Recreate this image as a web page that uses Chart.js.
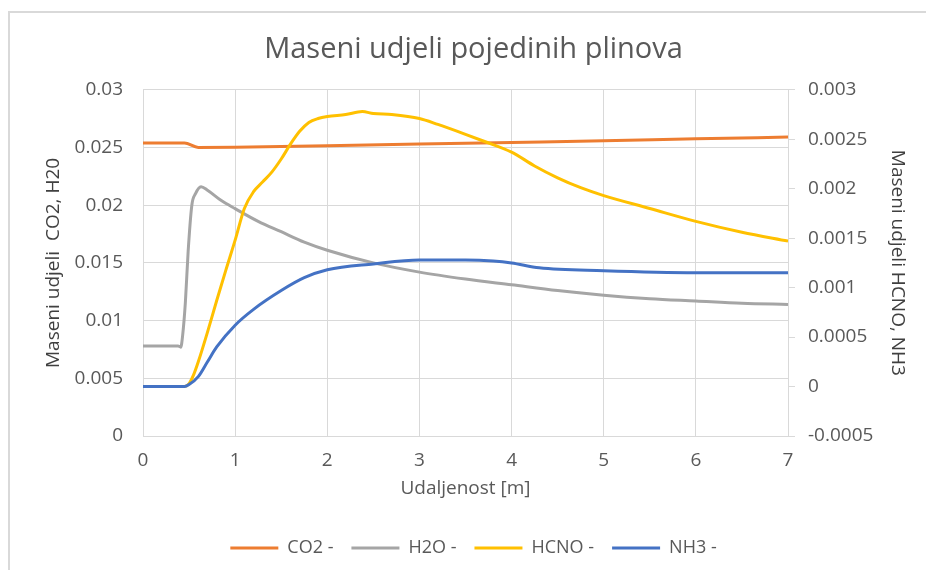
<!DOCTYPE html>
<html>
<head>
<meta charset="utf-8">
<title>Maseni udjeli pojedinih plinova</title>
<script src="https://cdn.jsdelivr.net/npm/chart.js@4.4.1/dist/chart.umd.min.js"></script>
<style>
  html, body { margin: 0; padding: 0; background: #fff; }
  #wrap { position: relative; width: 926px; height: 570px; overflow: hidden; }
  /* outer chart frame, only left and top edges are visible */
  #wrap::before {
    content: '';
    position: absolute;
    left: 8px; top: 11px; right: -10px; bottom: -10px;
    border-left: 2px solid #d9d9d9;
    border-top: 2px solid #d9d9d9;
    pointer-events: none;
  }
  canvas { display: block; }
</style>
</head>
<body>
<div id="wrap"><canvas id="chart" width="926" height="570"></canvas></div>
<script>
// Data (x = distance in m)
const co2X = [0, 0.45, 0.6, 1, 2, 3, 4, 5, 6, 7];
const co2Y = [0.0254, 0.0254, 0.0250, 0.02502, 0.02516, 0.0253, 0.02544, 0.02558, 0.02575, 0.0259];

const h2oX = [0, 0.38, 0.41, 0.43, 0.46, 0.49, 0.53, 0.57, 0.63, 0.7, 0.85, 1, 1.25, 1.5, 1.75, 2, 2.5, 3, 3.5, 4, 4.5, 5, 5.5, 6, 6.5, 7];
const h2oY = [0.0078, 0.0078, 0.0077, 0.0087, 0.0116, 0.016, 0.020, 0.021, 0.0216, 0.0213, 0.0204, 0.0197, 0.0186, 0.0177, 0.0168, 0.0161, 0.0150, 0.0142, 0.0136, 0.0131, 0.0126, 0.0122, 0.0119, 0.0117, 0.0115, 0.0114];

const hcnoX = [0, 0.45, 0.5, 0.55, 0.6, 0.7, 0.8, 0.9, 1, 1.1, 1.2, 1.3, 1.4, 1.5, 1.6, 1.7, 1.8, 1.9, 2, 2.2, 2.38, 2.5, 2.7, 3, 3.2, 3.5, 3.7, 4, 4.25, 4.5, 4.75, 5, 5.5, 6, 6.5, 7];
const hcnoY = [0, 0, 0.00003, 0.00012, 0.00025, 0.00055, 0.00087, 0.00118, 0.00148, 0.0018, 0.00197, 0.00207, 0.00217, 0.0023, 0.00245, 0.00258, 0.00267, 0.00271, 0.00273, 0.00275, 0.00278, 0.00276, 0.00275, 0.00271, 0.00265, 0.00255, 0.00248, 0.00237, 0.00223, 0.00211, 0.00201, 0.00193, 0.0018, 0.00167, 0.00156, 0.00147];

const nh3X = [0, 0.45, 0.5, 0.6, 0.7, 0.8, 1, 1.2, 1.5, 1.75, 2, 2.5, 3, 3.5, 3.8, 4, 4.3, 5, 6, 7];
const nh3Y = [0, 0, 0.00002, 0.0001, 0.00025, 0.0004, 0.00062, 0.00078, 0.00097, 0.0011, 0.00118, 0.00124, 0.00128, 0.00128, 0.00127, 0.00125, 0.0012, 0.00117, 0.00115, 0.00115];

// Tick labels
const xTicks = [0, 1, 2, 3, 4, 5, 6, 7];
const leftTicks = [0, 0.005, 0.01, 0.015, 0.02, 0.025, 0.03];
const rightTicks = [-0.0005, 0, 0.0005, 0.001, 0.0015, 0.002, 0.0025, 0.003];

const FONT = "'Open Sans', 'Noto Sans', sans-serif";
const GRID = '#d9d9d9';
const TEXT = '#595959';

function points(xs, ys) {
    return xs.map((x, i) => ({ x: x, y: ys[i] }));
}

function fixedTicks(list) {
    return (scale) => { scale.ticks = list.map(v => ({ value: v })); };
}

function fmt(v) {
    return String(+v.toFixed(5));
}

function series(label, xs, ys, color, axis, order) {
    return {
        label: label,
        data: points(xs, ys),
        borderColor: color,
        backgroundColor: color,
        borderWidth: 3,
        pointRadius: 0,
        fill: false,
        cubicInterpolationMode: 'monotone',
        yAxisID: axis,
        order: order
    };
}

const ctx = document.getElementById('chart').getContext('2d');
new Chart(ctx, {
    type: 'line',
    data: {
        datasets: [
            series('CO2 -', co2X, co2Y, '#ED7D31', 'y', 4),
            series('H2O -', h2oX, h2oY, '#A5A5A5', 'y', 3),
            series('HCNO -', hcnoX, hcnoY, '#FFC000', 'y1', 2),
            series('NH3 -', nh3X, nh3Y, '#4472C4', 'y1', 1)
        ]
    },
    options: {
        responsive: false,
        animation: false,
        // left padding shifts the centred title/legend like the outer frame does
        layout: { padding: { left: 21, right: 0, top: 0, bottom: 3 } },
        plugins: {
            title: {
                display: true,
                text: 'Maseni udjeli pojedinih plinova',
                color: TEXT,
                font: { family: FONT, size: 29, weight: 'normal' },
                padding: { top: 32, bottom: 23 }
            },
            legend: {
                position: 'bottom',
                labels: {
                    usePointStyle: true,
                    pointStyle: 'line',
                    pointStyleWidth: 48,
                    color: TEXT,
                    font: { family: FONT, size: 18 },
                    padding: 18,
                    sort: (a, b) => a.datasetIndex - b.datasetIndex
                }
            },
            tooltip: { enabled: false }
        },
        scales: {
            x: {
                type: 'linear',
                min: 0,
                max: 7,
                afterBuildTicks: fixedTicks(xTicks),
                afterFit: (scale) => { scale.height = 85; },
                grid: { color: GRID, lineWidth: 1, drawTicks: false },
                border: { color: GRID },
                ticks: { color: TEXT, font: { family: FONT, size: 19 }, padding: 13, callback: fmt },
                title: {
                    display: true,
                    text: 'Udaljenost [m]',
                    color: TEXT,
                    font: { family: FONT, size: 19 },
                    padding: { top: 0, bottom: 21 }
                }
            },
            y: {
                position: 'left',
                min: 0,
                max: 0.03,
                afterBuildTicks: fixedTicks(leftTicks),
                afterFit: (scale) => { scale.width = 122; },
                grid: { color: GRID, lineWidth: 1, drawTicks: false },
                border: { color: GRID },
                ticks: { color: TEXT, font: { family: FONT, size: 19 }, padding: 20, callback: fmt },
                title: {
                    display: true,
                    text: 'Maseni udjeli  CO2, H20',
                    color: '#404040',
                    font: { family: FONT, size: 19 },
                    padding: { top: 21, bottom: 10 }
                }
            },
            y1: {
                position: 'right',
                min: -0.0005,
                max: 0.003,
                afterBuildTicks: fixedTicks(rightTicks),
                afterFit: (scale) => { scale.width = 138; },
                grid: { color: GRID, drawOnChartArea: false, drawTicks: true, tickLength: 7 },
                border: { color: GRID },
                ticks: { color: TEXT, font: { family: FONT, size: 19 }, padding: 13, callback: fmt },
                title: {
                    display: true,
                    text: 'Maseni udjeli HCNO, NH3',
                    color: '#404040',
                    font: { family: FONT, size: 19 },
                    padding: { top: 17, bottom: 10 }
                }
            }
        }
    }
});
</script>
</body>
</html>
